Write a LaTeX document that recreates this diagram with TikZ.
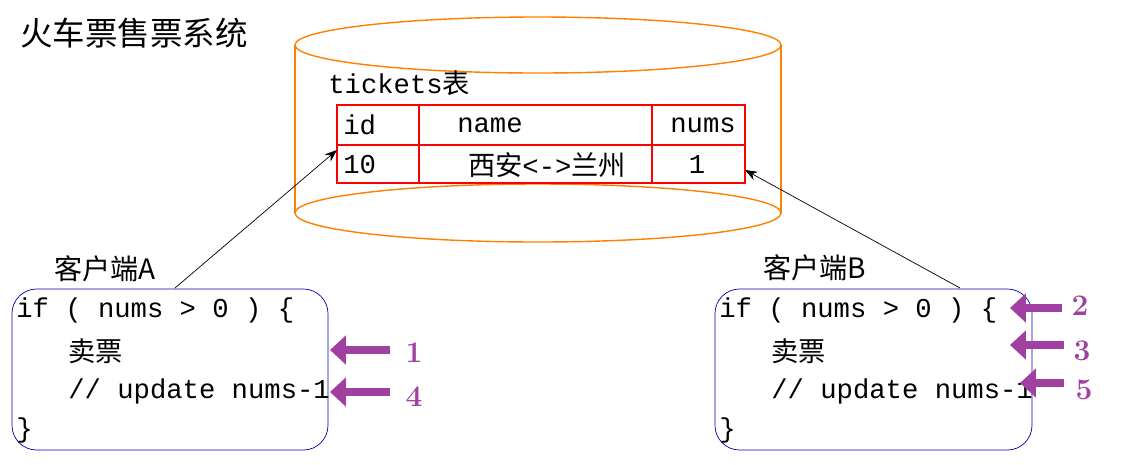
\documentclass[tikz,border=0pt]{standalone}
\usepackage{fontspec}
\setmonofont{Liberation Mono}
\newfontfamily\cjk{Noto Sans CJK SC}
\usetikzlibrary{positioning, arrows.meta, calc}
\definecolor{stepviolet}{RGB}{160,64,160}
\tikzset{
  code/.style={anchor=west, inner sep=0pt, font=\ttfamily\fontsize{15.5}{17}\selectfont},
  cell/.style={inner sep=0pt, font=\ttfamily\fontsize{15.5}{17}\selectfont},
  client/.style={draw=blue!70!black, rounded corners=14pt},
  push/.style={draw=stepviolet, line width=5pt, -{Triangle[length=9pt,width=16pt]}},
  step label/.style={text=stepviolet, font=\bfseries\fontsize{17}{19}\selectfont},
}
\begin{document}
\begin{tikzpicture}[x=0.02cm, y=-0.02cm]

	\useasboundingbox (0,0) rectangle (1123,464);

	% title
	\node[anchor=west, inner sep=0pt, font=\cjk\fontsize{18.5}{20}\selectfont] (title) at (20,33) {火车票售票系统};

	% database cylinder
	\draw[orange, thick] (538,45) ellipse (243 and 28);
	\draw[orange, thick] (295,45) -- (295,213);
	\draw[orange, thick] (781,45) -- (781,213);
	\draw[orange, thick] (538,213) ellipse (243 and 29);

	% the table
	\node[code] (tname) at (328,83) {tickets{\cjk 表}};
	\draw[red, thick] (337,105) rectangle (745,183);
	\draw[red, thick] (337,145) -- (745,145);
	\draw[red, thick] (419,105) -- (419,183);
	\draw[red, thick] (652,105) -- (652,183);
	\node[code] (hid) at (343,125) {id};
	\node[cell] (hname) at (490,125) {name};
	\node[cell] (hnums) at (703,125) {nums};
	\node[code] (vid) at (343,165) {10};
	\node[cell] (vname) at (547,165) {{\cjk 西安}<->{\cjk 兰州}};
	\node[cell] (vnums) at (697,165) {1};
	\coordinate (ta) at (337,150);
	\coordinate (tb) at (745,170);

	% client A
	\node[font=\cjk\fontsize{16}{18}\selectfont, inner sep=0pt] (la) at (105,269) {客户端A};
	\draw[client] (12,289) rectangle (328,450);
	\node[code] (a1) at (16,310) {if ( nums > 0 ) \{};
	\node[code] (a2) at (68,351) {\cjk 卖票};
	\node[code] (a3) at (68,391) {// update nums-1};
	\node[code] (a4) at (16,430) {\}};
	\coordinate (sa) at (175,288);
	\draw[-{Stealth[length=7pt]}] (sa) -- (ta);

	% client B
	\node[font=\cjk\fontsize{16}{18}\selectfont, inner sep=0pt] (lb) at (815,268) {客户端B};
	\draw[client] (715,289) rectangle (1032,450);
	\node[code] (b1) at (719,310) {if ( nums > 0 ) \{};
	\node[code] (b2) at (771,351) {\cjk 卖票};
	\node[code] (b3) at (771,391) {// update nums-1};
	\node[code] (b4) at (719,430) {\}};
	\coordinate (sb) at (960,288);
	\draw[-{Stealth[length=7pt]}] (sb) -- (tb);

	% order of steps
	\node[step label] (n1) at (414,353) {1};
	\node[step label] (n4) at (414,397) {4};
	\node[step label] (n2) at (1080,306) {2};
	\node[step label] (n3) at (1082,351) {3};
	\node[step label] (n5) at (1084,390) {5};
	\draw[push] (390,350) -- (330,350);
	\draw[push] (390,392) -- (330,392);
	\draw[push] (1062,308) -- (1010,308);
	\draw[push] (1064,345) -- (1010,345);
	\draw[push] (1064,383) -- (1020,383);

\end{tikzpicture}
\end{document}
